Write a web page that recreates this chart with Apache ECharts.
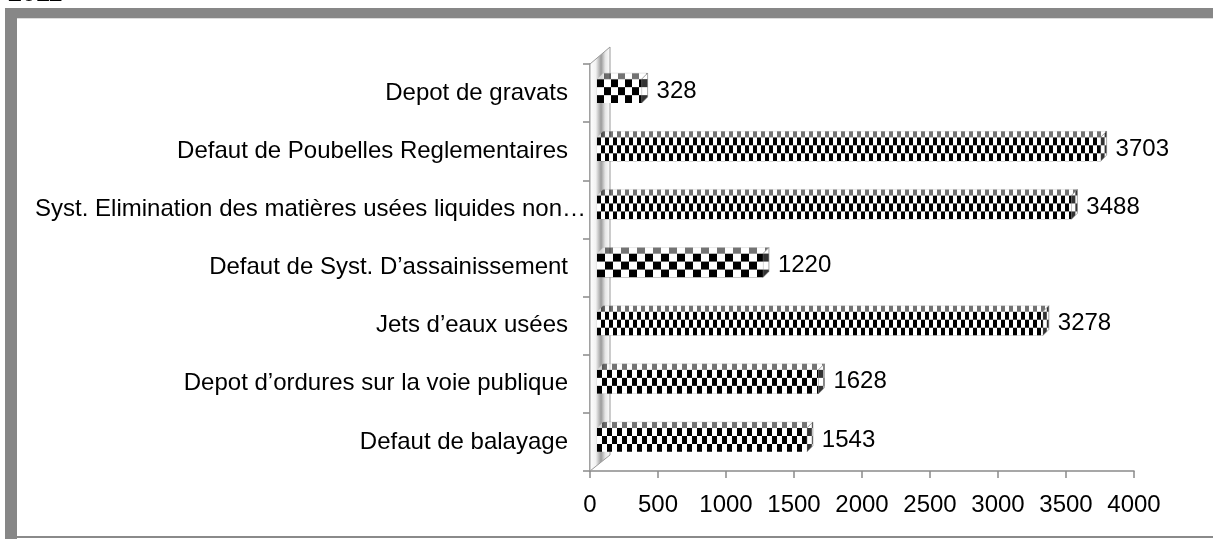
<!DOCTYPE html>
<html>
<head>
<meta charset="utf-8">
<script src="https://cdn.jsdelivr.net/npm/echarts@6/dist/echarts.min.js"></script>
<style>
  html, body { margin: 0; padding: 0; background: #fff; }
  #chart { width: 1213px; height: 539px; }
</style>
</head>
<body>
<div id="chart"></div>
<script>
// ---- data (bottom to top, as the category axis draws them) ----
const categories = [
  'Defaut de balayage',
  'Depot d’ordures sur la voie publique',
  'Jets d’eaux usées',
  'Defaut de Syst. D’assainissement',
  'Syst. Elimination des matières usées liquides non…',
  'Defaut de Poubelles Reglementaires',
  'Depot de gravats'
];
const values = [1543, 1628, 3278, 1220, 3488, 3703, 328];
const xMin = 0;
const xMax = 4000;
const xStep = 500;
const titleText = '2011';

// ---- style (not data) ----
const FONT = '"Liberation Sans", Arial, sans-serif';
const cellWidths = [5, 5, 4, 8, 4, 4, 7];   // checker cell width per bar
const CELL_H = 8;

function makeChecker(cw, ch) {
  const c = document.createElement('canvas');
  c.width = cw * 2; c.height = ch * 2;
  const g = c.getContext('2d');
  g.fillStyle = '#ffffff'; g.fillRect(0, 0, c.width, c.height);
  g.fillStyle = '#000000';
  g.fillRect(0, 0, cw, ch);
  g.fillRect(cw, ch, cw, ch);
  return c;
}
const patterns = cellWidths.map(w => makeChecker(w, CELL_H));

const chart = echarts.init(document.getElementById('chart'), null, { renderer: 'canvas' });

function renderItem(params, api) {
  const v = api.value(0);
  const idx = api.value(1);
  const p0 = api.coord([0, idx]);
  const p1 = api.coord([v, idx]);
  const bandH = api.size([0, 1])[1];
  const h = bandH * 0.41;
  const cy = p0[1] - 2;
  const x0 = p0[0] + 7, x1 = p1[0] + 7;
  const yT = cy - h / 2, yB = cy + h / 2;
  const dx = 6, dy = 6;
  const img = patterns[idx];
  const pat = (ox, oy) => ({ image: img, repeat: 'repeat', x: ox, y: oy });
  return {
    type: 'group',
    children: [
      {
        type: 'polygon',
        shape: { points: [[x0, yT], [x1, yT], [x1 + dx, yT - dy], [x0 + dx, yT - dy]] },
        style: { fill: pat(x0, yT), opacity: 0.55, stroke: '#aaa', lineWidth: 0.5 }
      },
      {
        type: 'polygon',
        shape: { points: [[x1, yT], [x1 + dx, yT - dy], [x1 + dx, yB - dy], [x1, yB]] },
        style: { fill: pat(x1, yT), opacity: 0.8, stroke: '#777', lineWidth: 0.8 }
      },
      {
        type: 'rect',
        shape: { x: x0, y: yT, width: x1 - x0, height: h },
        style: { fill: pat(x0, yT) }
      },
      {
        type: 'text',
        x: x1 + dx + 9,
        y: cy,
        style: {
          text: String(v),
          font: '24px ' + FONT,
          fill: '#000',
          verticalAlign: 'middle',
          align: 'left'
        }
      }
    ]
  };
}

const option = {
  animation: false,
  backgroundColor: '#ffffff',
  grid: { left: 590, right: 79, top: 64, bottom: 68, containLabel: false },
  xAxis: {
    type: 'value',
    min: xMin, max: xMax, interval: xStep,
    splitLine: { show: false },
    axisLine: { show: true, lineStyle: { color: '#8a8a8a', width: 1.5 } },
    axisTick: { show: true, length: 7, lineStyle: { color: '#8a8a8a', width: 1.5 } },
    axisLabel: {
      fontSize: 24, fontFamily: FONT, color: '#000', margin: 22,
      formatter: function (v) { return String(v); }
    }
  },
  yAxis: {
    type: 'category',
    data: categories,
    axisLine: { show: true, lineStyle: { color: '#8a8a8a', width: 1.5 } },
    axisTick: { show: true, length: 7, alignWithLabel: false, lineStyle: { color: '#8a8a8a', width: 1.5 } },
    axisLabel: {
      margin: 4,
      formatter: function (val, i) {
        return val.length > 45 ? '{l|' + val + '}' : '{n|' + val + '}';
      },
      rich: {
        l: { fontSize: 24, fontFamily: FONT, color: '#000' },
        n: { fontSize: 24, fontFamily: FONT, color: '#000', padding: [0, 18, 0, 0] }
      }
    }
  },
  graphic: [
    // outer frame
    { type: 'rect', left: 5, top: 8, shape: { width: 1208, height: 10 }, style: { fill: '#878787' }, z: 0, silent: true },
    { type: 'rect', left: 17, top: 18, shape: { width: 1196, height: 1 }, style: { fill: '#dcdcdc' }, z: 0, silent: true },
    { type: 'rect', left: 5, top: 8, shape: { width: 12, height: 531 }, style: { fill: '#878787' }, z: 0, silent: true },
    { type: 'rect', left: 17, top: 536, shape: { width: 1196, height: 2 }, style: { fill: '#8a8a8a' }, z: 0, silent: true },
    // year title (cut off at top)
    { type: 'text', x: 8, y: -18, style: { text: titleText, font: 'bold 25px ' + FONT, fill: '#000' }, z: 0, silent: true },
    // 3D side wall
    {
      type: 'polygon',
      shape: { points: [[590, 471], [590, 64], [610, 47], [610, 455]] },
      style: {
        fill: new echarts.graphic.LinearGradient(0, 0, 1, 0, [
          { offset: 0, color: '#ffffff' },
          { offset: 0.3, color: '#f2f2f2' },
          { offset: 0.55, color: '#9a9a9a' },
          { offset: 0.75, color: '#e6e6e6' },
          { offset: 1, color: '#ffffff' }
        ]),
        stroke: '#9a9a9a', lineWidth: 1
      },
      z: 1, silent: true
    }
  ],
  series: [{
    type: 'custom',
    renderItem: renderItem,
    encode: { x: 0, y: 1 },
    data: values.map((v, i) => [v, i]),
    z: 5,
    clip: false
  }]
};
chart.setOption(option);
</script>
</body>
</html>
